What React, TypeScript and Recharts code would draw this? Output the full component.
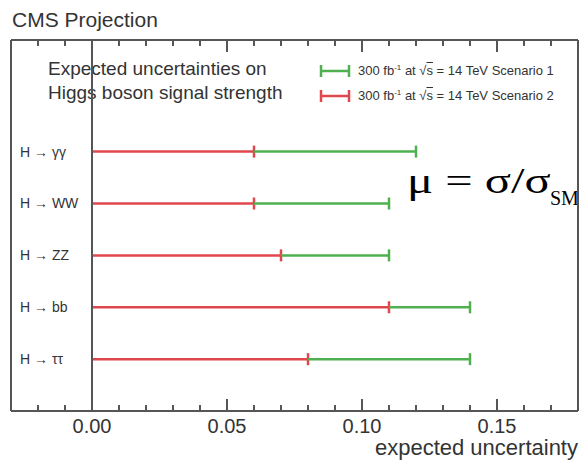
import { ComposedChart, Bar, XAxis, YAxis, ReferenceLine, Legend } from 'recharts';

const decays = ['H → γγ', 'H → WW', 'H → ZZ', 'H → bb', 'H → ττ'];
// 300 fb-1 at 14 TeV, expected uncertainty on the signal strength
const scenario1 = [0.12, 0.11, 0.11, 0.14, 0.14];
const scenario2 = [0.06, 0.06, 0.07, 0.11, 0.08];
const majorTicks = [0, 0.05, 0.1, 0.15];
const minorTicks = [-0.02, -0.01, 0.01, 0.02, 0.03, 0.04, 0.06, 0.07, 0.08, 0.09, 0.11, 0.12, 0.13, 0.14, 0.16, 0.17];
const rowTicks = [1, 2, 3, 4, 5];

const xDomain = [-0.03, 0.18];
const yDomain = [0, 7.15];

const GREEN = '#4fb04f';
const RED = '#e0474c';
const FRAME = '#555';
const SANS = '"Liberation Sans", Arial, sans-serif';
const SERIF = '"Liberation Serif", "Times New Roman", serif';

const PLOT_HEIGHT = 371;
// frame tick length in row units (plot height maps to the y domain)
const tickLen = (px: number) => (px * (yDomain[1] - yDomain[0])) / PLOT_HEIGHT;

const rows = decays.map((name, i) => ({
  name,
  pos: decays.length - i,
  s2: scenario2[i],
  s1: scenario1[i] - scenario2[i],
}));

// horizontal error line from the bar start with a cap at its end
const errorLine = (color: string) => (props: any) => {
  const { x, y, width, height } = props;
  const cy = y + height / 2;
  const end = x + width;
  return (
    <g>
      <line x1={x} y1={cy} x2={end} y2={cy} stroke={color} strokeWidth={2.5} />
      <line x1={end} y1={cy - 6} x2={end} y2={cy + 6} stroke={color} strokeWidth={2.5} />
    </g>
  );
};

const RowLabel = (props: any) => {
  const { x, y, payload } = props;
  return (
    <text x={x} y={y} dy={5} fontSize={14} fill="#333" fontFamily={SANS}>
      {decays[decays.length - payload.value]}
    </text>
  );
};

const AxisTitle = (props: any) => {
  const { x, y, width, height } = props.viewBox;
  return (
    <text x={x + width} y={y + height - 6} textAnchor="end" fontSize={22} fill="#333" fontFamily={SANS}>
      expected uncertainty
    </text>
  );
};

const LegendBox = (props: any) => {
  const items = [...(props.payload || [])].sort((a: any, b: any) => String(a.value).localeCompare(String(b.value)));
  return (
    <div style={{ fontFamily: SANS, fontSize: 13, color: '#333' }}>
      {items.map((item: any) => (
        <div key={item.value} style={{ display: 'flex', alignItems: 'center', height: 25 }}>
          <svg width={40} height={14}>
            <line x1={3} y1={7} x2={31} y2={7} stroke={item.color} strokeWidth={2.5} />
            <line x1={3} y1={1} x2={3} y2={13} stroke={item.color} strokeWidth={2.5} />
            <line x1={31} y1={1} x2={31} y2={13} stroke={item.color} strokeWidth={2.5} />
          </svg>
          <span>
            300 fb<sup style={{ fontSize: 8 }}>-1</sup> at √<span style={{ textDecoration: 'overline' }}>s</span> = 14 TeV {item.value}
          </span>
        </div>
      ))}
    </div>
  );
};

// inward tick marks on the top and bottom edges of the frame
const frameTicks = (values: number[], px: number) =>
  values.flatMap((t) => [
    <ReferenceLine key={`b-${px}-${t}`} xAxisId="main" yAxisId="rows" stroke="#444" strokeWidth={1.8}
      segment={[{ x: t, y: yDomain[0] }, { x: t, y: yDomain[0] + tickLen(px) }]} />,
    <ReferenceLine key={`t-${px}-${t}`} xAxisId="main" yAxisId="rows" stroke="#444" strokeWidth={1.8}
      segment={[{ x: t, y: yDomain[1] }, { x: t, y: yDomain[1] - tickLen(px) }]} />,
  ]);

const App = () => {
  return (
    <div style={{ position: 'absolute', left: 0, top: 0, width: 586, height: 461 }}>
      <svg width={586} height={461} style={{ position: 'absolute', left: 0, top: 0 }}>
        <text x={12} y={27} fontSize={21} fill="#333" fontFamily={SANS}>CMS Projection</text>
        <text x={48} y={75} fontSize={19} fill="#333" fontFamily={SANS}>Expected uncertainties on</text>
        <text x={48} y={99} fontSize={19} fill="#333" fontFamily={SANS}>Higgs boson signal strength</text>
        <g transform="translate(407 193) scale(1.35 1)">
          <text x={0} y={0} fontSize={36} fill="#000" fontFamily={SERIF}>μ = σ/σ</text>
        </g>
        <text x={550} y={205} fontSize={20} fill="#000" fontFamily={SERIF}>SM</text>
      </svg>
      <div style={{ position: 'absolute', left: 0, top: 0 }}>
        <ComposedChart
          width={586}
          height={461}
          data={rows}
          layout="vertical"
          margin={{ top: 40, right: 8, bottom: 0, left: 11 }}
        >
          <XAxis
            xAxisId="main"
            type="number"
            domain={xDomain}
            ticks={majorTicks}
            interval={0}
            allowDataOverflow
            height={50}
            tickLine={false}
            tickMargin={2}
            tickFormatter={(v: number) => v.toFixed(2)}
            tick={{ fontSize: 20, fill: '#333', fontFamily: SANS }}
            axisLine={{ stroke: FRAME, strokeWidth: 2 }}
            label={AxisTitle}
          />
          <XAxis xAxisId="top" orientation="top" type="number" domain={xDomain} allowDataOverflow mirror height={1}
            tick={false} tickLine={false} axisLine={{ stroke: FRAME, strokeWidth: 2 }} />
          <YAxis
            yAxisId="rows"
            type="number"
            dataKey="pos"
            domain={yDomain}
            ticks={rowTicks}
            interval={0}
            reversed
            mirror
            width={1}
            tickLine={false}
            tickSize={0}
            tickMargin={9}
            tick={<RowLabel />}
            axisLine={{ stroke: FRAME, strokeWidth: 2 }}
          />
          <YAxis yAxisId="frame" orientation="right" type="number" domain={yDomain} mirror width={1}
            tick={false} tickLine={false} axisLine={{ stroke: FRAME, strokeWidth: 2 }} />
          {frameTicks(minorTicks, 6)}
          {frameTicks(majorTicks, 12)}
          <ReferenceLine xAxisId="main" yAxisId="rows" x={0} stroke={FRAME} strokeWidth={2} />
          <Bar xAxisId="main" yAxisId="rows" dataKey="s2" name="Scenario 2" stackId="u" barSize={12}
            fill={RED} shape={errorLine(RED)} isAnimationActive={false} />
          <Bar xAxisId="main" yAxisId="rows" dataKey="s1" name="Scenario 1" stackId="u" barSize={12}
            fill={GREEN} shape={errorLine(GREEN)} isAnimationActive={false} />
          <Legend verticalAlign="middle" align="center" content={LegendBox}
            wrapperStyle={{ top: 58, left: 318, width: 262 }} />
        </ComposedChart>
      </div>
    </div>
  );
};

export default App;
